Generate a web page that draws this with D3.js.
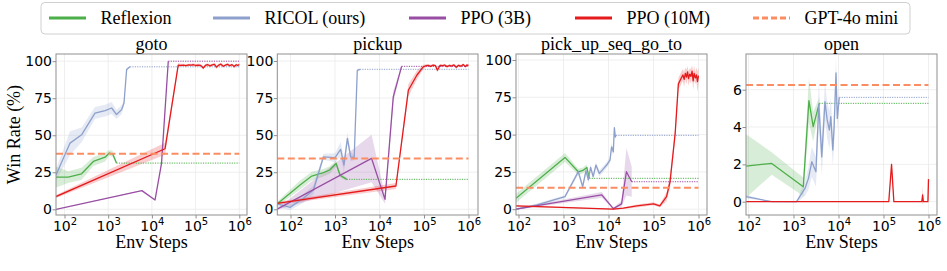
<!DOCTYPE html>
<html><head><meta charset="utf-8">
<script src="https://cdn.jsdelivr.net/npm/d3@7"></script>
<style>body{margin:0;background:#fff} svg{display:block}</style>
</head><body><svg id="c" width="947" height="271"></svg>
<script>
const seriesNames = ["Reflexion","RICOL (ours)","PPO (3B)","PPO (10M)","GPT-4o mini"];
const seriesColors = ["#4daf4a","#8da0cb","#984ea3","#e41a1c","#fc8d62"];
const panelTitles = ["goto","pickup","pick_up_seq_go_to","open"];
const xTickValues = [1e2,1e3,1e4,1e5,1e6];
const yTicksPct = [0,25,50,75,100];
const yTicksOpen = [0,2,4,6];
const gptValues = [37.5, 34.3, 14.4, 6.25];

// ---- goto ----
const gotoReflX = [64, 122, 246, 457, 850, 1060, 1260, 1550];
const gotoReflY = [21.7, 21.7, 24, 32.3, 35.2, 38, 37.5, 31.2];
const gotoReflE = [7, 4, 4, 3, 3, 2, 2, 1];
const gotoRicolX = [64, 134, 246, 498, 850, 1200, 1550, 2030, 2300, 2640, 3150];
const gotoRicolY = [23.2, 44.7, 50.3, 65, 66.6, 68.4, 64, 67.3, 71.8, 94.4, 96.2];
const gotoRicolE = [4, 8, 5, 4, 4, 4, 3, 3, 2, 1, 0.5];
const gotoPpo3X = [64, 5900, 11800, 16600, 23700];
const gotoPpo3Y = [0, 12.6, 6.3, 31, 100];
const gotoPpo3E = [0, 0.3, 0.3, 0.5, 0];
const gotoPpo10X = [64, 20000, 40000, 45000, 52000, 60000, 70000, 80000, 90000, 100000, 115000, 130000, 150000, 170000, 190000, 215000, 240000, 270000, 300000, 340000, 380000, 430000, 480000, 540000, 600000, 680000, 760000, 850000, 920000, 1000000];
const gotoPpo10Y = [8.6, 40.9, 97.3, 97.2, 97.4, 97.0, 97.5, 97.3, 97.6, 97.1, 97.4, 97.2, 95.4, 97.3, 97.6, 96.8, 97.5, 97.9, 96.0, 97.4, 98.0, 96.6, 97.3, 97.9, 96.9, 97.7, 96.4, 97.6, 97.1, 97.8];
const gotoPpo10E = [1, 4, 1.5, 1, 0.8, 1, 0.8, 0.9, 1, 0.8, 1, 0.9, 1.2, 0.8, 1, 0.9, 0.8, 1, 1.2, 0.8, 1, 0.9, 0.8, 1, 0.9, 0.8, 1.1, 0.9, 0.8, 1];

// ---- pickup ----
const pickReflX = [50, 164, 300, 550, 760, 1060, 1300, 1830];
const pickReflY = [3.6, 16.4, 22.4, 24.7, 26.5, 30.9, 23, 20.2];
const pickReflE = [1.5, 3, 3, 2.5, 2.5, 2, 1.5, 1];
const pickRicolX = [50, 98, 194, 327, 550, 1000, 1340, 1590, 1900, 2250, 2700, 3170, 3630];
const pickRicolY = [3.6, 1.3, 7.4, 13, 35.4, 34.8, 40.4, 29.8, 47.8, 35.4, 35, 93.7, 94.4];
const pickRicolE = [2, 2, 3, 3, 2, 3, 5, 5, 4, 3, 2, 1, 0.5];
const pickPpo3X = [50, 6640, 13300, 20400, 31400];
const pickPpo3Y = [0, 34.3, 6.7, 75.8, 96.4];
const pickPpo3E = [0.5, 16, 3, 4, 1];
const pickPpo10X = [50, 23400, 44500, 69000, 96000, 110000, 125000, 140000, 160000, 180000, 200000, 230000, 260000, 290000, 330000, 370000, 420000, 470000, 530000, 600000, 680000, 760000, 850000, 920000, 1000000];
const pickPpo10Y = [4, 15.7, 80.3, 90.4, 96, 96.8, 97.0, 96.4, 97.2, 96.9, 93.8, 97.1, 96.8, 97.3, 96.2, 97.0, 96.6, 97.4, 95.8, 97.1, 96.5, 97.6, 96.2, 97.3, 97.0];
const pickPpo10E = [1, 2, 4, 3, 1.5, 1, 0.8, 1, 0.8, 1, 1.5, 0.8, 1, 0.8, 1, 0.8, 1, 0.8, 1.2, 0.8, 1, 0.8, 1, 0.8, 1];

// ---- pick_up_seq_go_to ----
const seqReflX = [88, 1080, 2130, 2700, 3300, 3740];
const seqReflY = [7.3, 34.7, 25.1, 26, 28, 20.7];
const seqReflE = [3, 3, 2, 2, 2, 1];
const seqRicolX = [88, 257, 1080, 2130, 2670, 3160, 3560, 4000, 4560, 5250, 6260, 7680, 9100, 10800, 11700, 12800, 13500, 14200, 14650];
const seqRicolY = [0, 2.9, 8.4, 25.1, 15.1, 25.8, 19.6, 28, 21.8, 29.6, 24, 27, 29.6, 32.9, 41.8, 38.4, 54.7, 48.4, 49.5];
const seqRicolE = [0.5, 1, 1, 2, 2, 2, 2, 2, 2, 2, 2, 2, 2, 2, 3, 2, 2, 1, 0.5];
const seqPpo3X = [88, 7090, 12800, 19500, 25000, 32800];
const seqPpo3Y = [0, 9.6, 0.4, 3.6, 25.1, 18.4];
const seqPpo3E = [0.3, 2, 0.5, 2, 16, 10];
const seqPpo10X = [88, 12800, 21400, 42600, 100000, 138000, 195000, 233000, 303000, 357000, 423000, 450000, 480000, 510000, 540000, 570000, 600000, 640000, 680000, 720000, 760000, 800000, 850000, 900000, 950000, 1000000];
const seqPpo10Y = [2.2, 0, 0.7, 2.2, 3.6, 2.2, 8.4, 18.4, 50.7, 84, 88.4, 90, 87, 91, 88.5, 92, 87.5, 90.5, 89, 92.5, 86, 91, 88, 90, 85.5, 89.5];
const seqPpo10E = [0.5, 0.3, 0.5, 1, 1, 1, 3, 4, 4, 4, 4, 4, 5, 4, 5, 4, 5, 4, 5, 4, 6, 5, 4, 5, 7, 5];

// ---- open ----
const openReflX = [88, 328, 1650, 2200, 2740, 3740];
const openReflY = [1.91, 2.05, 0.8, 5.41, 4.02, 5.27];
const openReflE = [1.7, 0.6, 0.5, 1.2, 0.8, 0.3];
const openRicolX = [88, 328, 1170, 1800, 2150, 2550, 3150, 3650, 4250, 5000, 5600, 6270, 6750, 7480, 8000, 8800, 9400, 10400];
const openRicolY = [0.27, 0, 0, 0.71, 1.25, 2.14, 1.6, 5.2, 2.4, 5.36, 4.38, 3.84, 4.55, 2.77, 4.0, 6.9, 4.46, 5.59];
const openRicolE = [0.1, 0, 0.05, 0.4, 0.6, 0.8, 0.8, 1.2, 1.0, 1, 1, 1, 1, 0.8, 1, 0.8, 0.6, 0.3];
const openPpo10X = [88, 131000, 151000, 170000, 710000, 740000, 770000, 970000, 1000000];
const openPpo10Y = [0, 0, 2.0, 0, 0, 0.36, 0, 0, 1.21];
const openPpo10E = [0, 0, 0.2, 0, 0, 0.5, 0, 0, 1.0];

const panelSeries = [
  [[gotoReflX,gotoReflY,gotoReflE,0],[gotoRicolX,gotoRicolY,gotoRicolE,1],[gotoPpo3X,gotoPpo3Y,gotoPpo3E,2],[gotoPpo10X,gotoPpo10Y,gotoPpo10E,3]],
  [[pickReflX,pickReflY,pickReflE,0],[pickRicolX,pickRicolY,pickRicolE,1],[pickPpo3X,pickPpo3Y,pickPpo3E,2],[pickPpo10X,pickPpo10Y,pickPpo10E,3]],
  [[seqReflX,seqReflY,seqReflE,0],[seqRicolX,seqRicolY,seqRicolE,1],[seqPpo3X,seqPpo3Y,seqPpo3E,2],[seqPpo10X,seqPpo10Y,seqPpo10E,3]],
  [[openReflX,openReflY,openReflE,0],[openRicolX,openRicolY,openRicolE,1],[openPpo10X,openPpo10Y,openPpo10E,3]]
];

// ---- layout ----
const serif = "'Liberation Serif','Times New Roman',serif";
const sans = "'DejaVu Sans',sans-serif";
const TOP = 54, BOTTOM = 215;
const layouts = [
  {left:56,    right:247, x2:64.5,  x6:239.3, y0:209.3, yT:61.2, yMax:100, ticks:yTicksPct},
  {left:277.3, right:478, x2:290.5, x6:468.5, y0:209.3, yT:61.0, yMax:100, ticks:yTicksPct},
  {left:516,   right:707, x2:518.5, x6:698.5, y0:209.2, yT:60.0, yMax:100, ticks:yTicksPct},
  {left:746,   right:937, x2:748.5, x6:928.5, y0:201.7, yT:89.7, yMax:6,   ticks:yTicksOpen}
];

const svg = d3.select("#c");
const defs = svg.append("defs");

layouts.forEach((L, pi) => {
  const xs = d3.scaleLog().domain([1e2,1e6]).range([L.x2, L.x6]);
  const ys = d3.scaleLinear().domain([0, L.yMax]).range([L.y0, L.yT]);
  const g = svg.append("g");
  const cid = "clip"+pi;
  defs.append("clipPath").attr("id",cid).append("rect")
    .attr("x",L.left).attr("y",TOP).attr("width",L.right-L.left).attr("height",BOTTOM-TOP);

  // grid
  g.append("g").selectAll("line").data(xTickValues).join("line")
    .attr("x1",d=>xs(d)).attr("x2",d=>xs(d)).attr("y1",TOP).attr("y2",BOTTOM)
    .attr("stroke","#ebebeb").attr("stroke-width",0.8);
  g.append("g").selectAll("line").data(L.ticks).join("line")
    .attr("y1",d=>ys(d)).attr("y2",d=>ys(d)).attr("x1",L.left).attr("x2",L.right)
    .attr("stroke","#ebebeb").attr("stroke-width",0.8);

  const plot = g.append("g").attr("clip-path",`url(#${cid})`);
  const xStart = xs.invert(L.left);
  const series = panelSeries[pi];

  // bands
  series.forEach(([X,Y,E,ci]) => {
    const pts = X.map((x,i)=>({x, y:Y[i], e:E[i]}));
    plot.append("path").datum(pts)
      .attr("d", d3.area().x(d=>xs(d.x)).y0(d=>ys(d.y-d.e)).y1(d=>ys(d.y+d.e)))
      .attr("fill", seriesColors[ci]).attr("fill-opacity",0.22).attr("stroke","none");
  });
  // lines + dotted extensions
  series.forEach(([X,Y,E,ci]) => {
    const pts = X.map((x,i)=>({x, y:Y[i]}));
    plot.append("path").datum(pts)
      .attr("d", d3.line().x(d=>xs(d.x)).y(d=>ys(d.y)))
      .attr("fill","none").attr("stroke",seriesColors[ci]).attr("stroke-width",1.3)
      .attr("stroke-linejoin","round");
    const last = pts[pts.length-1];
    if (last.x < 1e6) {
      plot.append("line")
        .attr("x1",xs(last.x)).attr("x2",xs(1e6)).attr("y1",ys(last.y)).attr("y2",ys(last.y))
        .attr("stroke",seriesColors[ci]).attr("stroke-width",1).attr("stroke-dasharray","1.2,1.2");
    }
  });
  // GPT-4o mini reference
  plot.append("line")
    .attr("x1",xs(xStart)).attr("x2",xs(1e6)).attr("y1",ys(gptValues[pi])).attr("y2",ys(gptValues[pi]))
    .attr("stroke",seriesColors[4]).attr("stroke-width",2).attr("stroke-dasharray","7,3.5");

  // frame
  g.append("rect").attr("x",L.left).attr("y",TOP).attr("width",L.right-L.left).attr("height",BOTTOM-TOP)
    .attr("fill","none").attr("stroke","#8f8f8f").attr("stroke-width",1);

  // axes
  const xAxis = d3.axisBottom(xs).tickValues(xTickValues).tickSize(3.5).tickFormat("");
  g.append("g").attr("transform",`translate(0,${BOTTOM})`).call(xAxis)
    .call(a => {
      a.select(".domain").remove();
      a.selectAll(".tick line").attr("stroke","#8f8f8f");
      a.selectAll(".tick text").each(function(d){
        const t = d3.select(this);
        t.text(null).attr("y",16.3).attr("dy",0).attr("fill","#000")
          .attr("font-family",sans).attr("font-size",14);
        t.append("tspan").text("10");
        t.append("tspan").attr("dy",-6).attr("font-size",10).text(Math.round(Math.log10(d)));
      });
    });
  const yAxis = d3.axisLeft(ys).tickValues(L.ticks).tickSize(3.5).tickPadding(0.5).tickFormat(d3.format("d"));
  g.append("g").attr("transform",`translate(${L.left},0)`).call(yAxis)
    .call(a => {
      a.select(".domain").remove();
      a.selectAll(".tick line").attr("stroke","#8f8f8f");
      a.selectAll(".tick text").attr("fill","#000").attr("font-family",sans).attr("font-size",14);
    });

  // title & xlabel
  const cx = (L.left+L.right)/2;
  g.append("text").attr("x",cx).attr("y",49.5).attr("text-anchor","middle")
    .attr("font-family",serif).attr("font-size",18).text(panelTitles[pi]);
  g.append("text").attr("x",cx).attr("y",247.5).attr("text-anchor","middle")
    .attr("font-family",serif).attr("font-size",18).text("Env Steps");
});

// y label
svg.append("text").attr("transform","translate(19.5,134.5) rotate(-90)")
  .attr("text-anchor","middle").attr("font-family",serif).attr("font-size",18).text("Win Rate (%)");

// legend
const lg = svg.append("g");
lg.append("rect").attr("x",41).attr("y",2.5).attr("width",869).attr("height",31.5).attr("rx",4)
  .attr("fill","#fff").attr("stroke","#d0d0d0").attr("stroke-width",1);
const legendStarts = [49, 213, 409, 575, 753];
seriesNames.forEach((n,i) => {
  const x0 = legendStarts[i];
  lg.append("line").attr("x1",x0).attr("x2",x0+37).attr("y1",18).attr("y2",18)
    .attr("stroke",seriesColors[i]).attr("stroke-width",2.8)
    .attr("stroke-dasharray", i===4 ? "6,3" : null);
  lg.append("text").attr("x",x0+51.5).attr("y",24.3).attr("font-family",serif).attr("font-size",18).text(n);
});
</script></body></html>
